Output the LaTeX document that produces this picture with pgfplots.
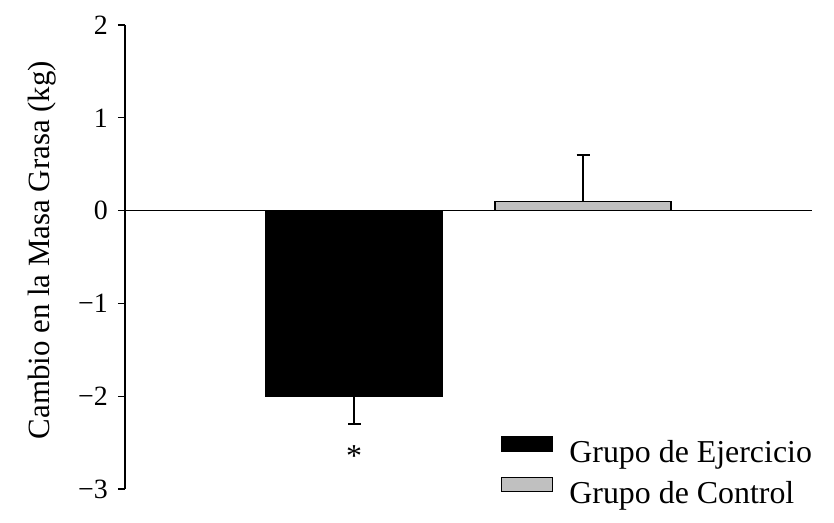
\documentclass[border=0pt]{standalone}
\usepackage{fontspec}
\setmainfont{Liberation Serif}
\usepackage{pgfplots}
\pgfplotsset{compat=1.18}
\definecolor{barblack}{RGB}{0,0,0}
\definecolor{bargrey}{RGB}{192,192,192}
\begin{document}
\begin{tikzpicture}
  \useasboundingbox (0,0) rectangle (834bp,523bp);
  \begin{axis}[
    at={(125bp,34bp)}, anchor=south west,
    scale only axis,
    width=687bp, height=464bp,
    xmin=0, xmax=3,
    ymin=-3, ymax=2,
    axis x line=middle,
    axis y line=left,
    x axis line style={-, line width=1.2bp},
    y axis line style={-, line width=1.2bp},
    xtick=\empty,
    ytick={-3,-2,-1,0,1,2},
    yticklabels={−3,−2,−1,0,1,2},
    tick align=outside,
    major tick length=7bp,
    ytick style={line width=1.2bp, black},
    yticklabel style={font=\fontsize{28}{30}\selectfont, inner sep=0pt, xshift=-10bp},
    ylabel={Cambio en la Masa Grasa (kg)},
    ylabel style={font=\fontsize{31}{33}\selectfont, at={(axis description cs:-0.141,0.515)},
      anchor=north, inner sep=0pt, rotate=0},
    clip=false,
    legend image code/.code={\draw[#1, line width=1.2bp] (0bp,2bp) rectangle (51bp,16bp);},
    legend style={draw=none, fill=none, at={(axis cs:1.642,-2.43)}, anchor=north west,
      inner sep=0pt, row sep=12bp, font=\fontsize{32}{34}\selectfont,
      nodes={inner sep=0pt, text depth=0.25em}},
    legend cell align=left,
  ]
    \addplot[ybar, bar width=0.777, bar shift=0, fill=barblack, draw=black, line width=1bp,
      error bars/.cd, y dir=minus, y explicit,
      error bar style={line width=1.4bp, black},
      error mark options={rotate=90, mark size=6.5bp, line width=1.4bp, black}]
      coordinates {(1,-2) -= (0,0.3)};
    \addlegendentry{\hspace{16bp}Grupo de Ejercicio}
    \addplot[ybar, bar width=0.769, bar shift=0, fill=bargrey, draw=black, line width=1.2bp,
      error bars/.cd, y dir=plus, y explicit,
      error bar style={line width=1.4bp, black},
      error mark options={rotate=90, mark size=6.5bp, line width=1.4bp, black}]
      coordinates {(2,0.1) += (0,0.5)};
    \addlegendentry{\hspace{16bp}Grupo de Control}
    \node[font=\fontsize{32}{34}\selectfont] at (axis cs:1.0,-2.64) {*};
  \end{axis}
\end{tikzpicture}
\end{document}
